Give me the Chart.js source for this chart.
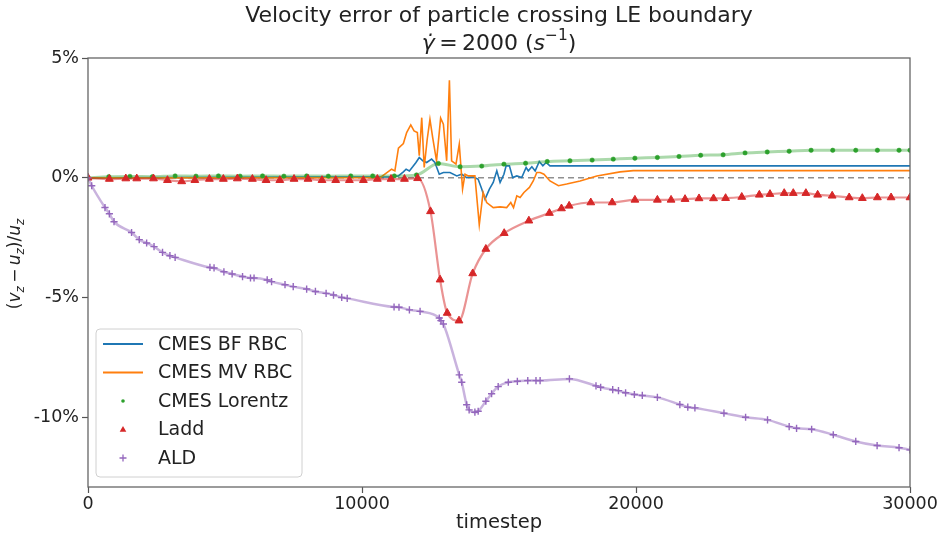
<!DOCTYPE html>
<html>
<head>
<meta charset="utf-8">
<script src="https://cdn.jsdelivr.net/npm/chart.js"></script>
<style>
  body { margin: 0; background: #fff; }
  #wrap { width: 952px; height: 540px; }
</style>
</head>
<body>
<div id="wrap"><canvas id="myChart" width="952" height="540"></canvas></div>
<script>
// Axis ticks
var xTicks = [0, 10000, 20000, 30000];
var yTicks = [-10, -5, 0, 5];

// CMES BF RBC
var bfT = [0, 11020, 11330, 11510, 11610, 11730, 11850, 11970, 12090, 12220, 12360, 12540, 12660, 12820, 12970, 13210, 13460, 13640, 13820, 14060, 14240, 14370, 14490, 14650, 14790, 14920, 15040, 15180, 15260, 15380, 15500, 15650, 15830, 15990, 16070, 16200, 16320, 16470, 16600, 16720, 16860, 17230, 30000];
var bfV = [0, 0.04, 0.08, 0.25, 0.36, 0.29, 0.46, 0.64, 0.85, 0.71, 0.64, 0.78, 0.64, 0.15, 0.22, 0.22, 0.08, 0.15, 0.01, 0.04, -0.06, -0.47, -0.89, -0.47, -0.19, 0.29, -0.19, 0.15, 0.5, 0.5, 0.01, 0.08, 0.01, 0.43, 0.29, 0.46, 0.29, 0.68, 0.5, 0.64, 0.5, 0.5, 0.5];

// CMES MV RBC
var mvT = [0, 10660, 11080, 11200, 11330, 11510, 11630, 11780, 11900, 12020, 12090, 12180, 12270, 12380, 12480, 12580, 12720, 12870, 12970, 13090, 13190, 13270, 13430, 13550, 13670, 13760, 13880, 14120, 14280, 14420, 14550, 14790, 15040, 15280, 15430, 15530, 15650, 15770, 15910, 16110, 16250, 16380, 16500, 16640, 16860, 17170, 17470, 17960, 18570, 19420, 19900, 30000];
var mvV = [0, 0.01, 0.36, 0.29, 1.24, 1.43, 1.89, 2.21, 1.96, 1.89, 0.92, 2.51, 0.43, 1.61, 2.44, 1.68, 0.71, 2.49, 2.24, 0.71, 4.07, 0.71, 0.57, 1.4, -0.47, 0.15, 0.08, 0.08, -1.96, -0.61, -1.03, -1.24, -1.21, -1.24, -1.03, -1.24, -0.75, -0.82, -0.61, -0.4, -0.13, 0.22, 0.22, 0.15, -0.13, -0.33, -0.26, -0.13, 0.08, 0.25, 0.3, 0.3];

// CMES Lorentz
var lorT = [0, 760, 1530, 2350, 3180, 3940, 4760, 5550, 6370, 7150, 7980, 8770, 9590, 10390, 11180, 11990, 12790, 13580, 14370, 15180, 15970, 16760, 17590, 18400, 19170, 19960, 20780, 21570, 22360, 23180, 23980, 24790, 25590, 26390, 27180, 28020, 28810, 29600, 30000];
var lorV = [0, 0.05, 0.06, 0.05, 0.08, 0.07, 0.08, 0.07, 0.08, 0.07, 0.08, 0.07, 0.08, 0.08, 0.08, 0.12, 0.6, 0.46, 0.49, 0.57, 0.61, 0.68, 0.71, 0.74, 0.78, 0.82, 0.85, 0.89, 0.94, 0.96, 1.04, 1.08, 1.11, 1.15, 1.15, 1.15, 1.15, 1.15, 1.15];

// Ladd
var laddT = [0, 780, 1380, 1780, 2390, 2900, 3420, 3900, 4430, 4940, 5450, 6000, 6500, 7000, 7520, 8030, 8540, 9040, 9540, 10050, 10560, 11060, 11550, 12030, 12500, 12850, 13110, 13540, 14040, 14520, 15190, 16090, 16840, 17280, 17560, 18350, 19130, 19960, 20780, 21280, 21790, 22300, 22830, 23270, 23860, 24500, 24890, 25410, 25740, 26200, 26630, 27160, 27780, 28260, 28810, 29310, 30000];
var laddV = [0, -0.05, -0.03, -0.03, -0.03, -0.1, -0.15, -0.1, -0.05, -0.05, -0.03, -0.05, -0.1, -0.1, -0.05, -0.05, -0.1, -0.1, -0.1, -0.1, -0.05, -0.05, -0.05, -0.02, -1.4, -4.25, -5.64, -5.96, -3.99, -2.97, -2.31, -1.79, -1.47, -1.28, -1.17, -1.03, -1.03, -0.92, -0.92, -0.92, -0.89, -0.86, -0.86, -0.85, -0.8, -0.71, -0.68, -0.64, -0.64, -0.64, -0.71, -0.75, -0.82, -0.85, -0.82, -0.82, -0.82];

// ALD
var aldT = [0, 135, 620, 780, 950, 1590, 1870, 2140, 2410, 2720, 2990, 3180, 4450, 4600, 4960, 5260, 5640, 5930, 6060, 6540, 6700, 7190, 7490, 7980, 8300, 8690, 8960, 9260, 9460, 11170, 11350, 11730, 12120, 12820, 12880, 12970, 13550, 13640, 13820, 13910, 14120, 14240, 14520, 14730, 14970, 15340, 15670, 16050, 16350, 16500, 17570, 18540, 18710, 19150, 19360, 19620, 19940, 20230, 20780, 21600, 21890, 22150, 23210, 24000, 24800, 25590, 25860, 26410, 27200, 28020, 28800, 29600, 30000];
var aldV = [0, -0.33, -1.24, -1.5, -1.83, -2.28, -2.58, -2.72, -2.87, -3.11, -3.25, -3.32, -3.74, -3.76, -3.92, -4.01, -4.12, -4.18, -4.18, -4.26, -4.33, -4.46, -4.54, -4.64, -4.74, -4.82, -4.89, -4.99, -5.03, -5.39, -5.4, -5.51, -5.57, -5.85, -5.96, -6.1, -8.22, -8.53, -9.47, -9.68, -9.78, -9.74, -9.32, -9.01, -8.71, -8.53, -8.49, -8.46, -8.46, -8.46, -8.39, -8.68, -8.74, -8.84, -8.88, -8.97, -9.04, -9.08, -9.16, -9.46, -9.57, -9.6, -9.82, -9.99, -10.1, -10.38, -10.45, -10.49, -10.72, -11.0, -11.17, -11.26, -11.35];

var FONT = "'DejaVu Sans', sans-serif";

function pts(t, v) {
  return t.map(function(x, i) { return { x: x, y: v[i] }; });
}

function fontFor(style, size) {
  var s = size;
  if (style.indexOf('sub') >= 0 || style.indexOf('sup') >= 0) s = size * 0.7;
  return (style.indexOf('i') === 0 ? 'italic ' : '') + s + 'px ' + FONT;
}

// draws text made of parts: [text, style] with style '', 'i', 'isub', 'sup'
function richText(ctx, parts, x, y, size) {
  var widths = [], total = 0;
  parts.forEach(function(p) {
    ctx.font = fontFor(p[1], size);
    var w = ctx.measureText(p[0]).width;
    widths.push(w);
    total += w;
  });
  var cx = x - total / 2;
  ctx.textAlign = 'left';
  ctx.textBaseline = 'middle';
  parts.forEach(function(p, i) {
    ctx.font = fontFor(p[1], size);
    var dy = 0;
    if (p[1].indexOf('sub') >= 0) dy = size * 0.3;
    if (p[1].indexOf('sup') >= 0) dy = -size * 0.38;
    ctx.fillText(p[0], cx, y + dy);
    cx += widths[i];
  });
}

function drawMarker(ctx, style, x, y, r, color) {
  ctx.save();
  ctx.fillStyle = color;
  ctx.strokeStyle = color;
  ctx.beginPath();
  if (style === 'circle') {
    ctx.arc(x, y, r, 0, Math.PI * 2);
    ctx.fill();
  } else if (style === 'triangle') {
    ctx.moveTo(x, y - r);
    ctx.lineTo(x + r * 0.95, y + r * 0.65);
    ctx.lineTo(x - r * 0.95, y + r * 0.65);
    ctx.closePath();
    ctx.fill();
  } else {
    ctx.lineWidth = 1.3;
    ctx.moveTo(x - r, y); ctx.lineTo(x + r, y);
    ctx.moveTo(x, y - r); ctx.lineTo(x, y + r);
    ctx.stroke();
  }
  ctx.restore();
}

var decor = {
  id: 'decor',
  beforeDatasetsDraw: function(chart) {
    var ctx = chart.ctx, a = chart.chartArea;
    var y0 = chart.scales.y.getPixelForValue(0);
    ctx.save();
    ctx.strokeStyle = '#909090';
    ctx.lineWidth = 1.5;
    ctx.setLineDash([6, 4]);
    ctx.beginPath();
    ctx.moveTo(a.left, y0);
    ctx.lineTo(a.right, y0);
    ctx.stroke();
    ctx.restore();
  },
  afterDraw: function(chart) {
    var ctx = chart.ctx, a = chart.chartArea;
    var mid = (a.left + a.right) / 2;
    ctx.save();
    // frame
    ctx.strokeStyle = '#666';
    ctx.lineWidth = 1.3;
    ctx.strokeRect(a.left, a.top, a.right - a.left, a.bottom - a.top);

    // title
    ctx.fillStyle = '#222';
    ctx.font = '22px ' + FONT;
    ctx.textAlign = 'center';
    ctx.textBaseline = 'middle';
    ctx.fillText('Velocity error of particle crossing LE boundary', mid, 16);
    richText(ctx, [['\u03b3\u0307', 'i'], ['\u2009=\u20092000 (', ''], ['s', 'i'], ['\u22121', 'sup'], [')', '']], mid, 44, 22);

    // y axis title
    ctx.save();
    ctx.translate(16, 264);
    ctx.rotate(-Math.PI / 2);
    richText(ctx, [['(', ''], ['v', 'i'], ['z', 'isub'], ['\u2009\u2212\u2009', ''], ['u', 'i'], ['z', 'isub'], [')/', ''], ['u', 'i'], ['z', 'isub']], 0, 0, 17);
    ctx.restore();

    // legend
    var bx = 96, by = 329, bw = 206, bh = 148;
    ctx.fillStyle = 'rgba(255,255,255,0.85)';
    ctx.strokeStyle = '#d0d0d0';
    ctx.lineWidth = 1;
    ctx.beginPath();
    ctx.roundRect(bx, by, bw, bh, 4);
    ctx.fill();
    ctx.stroke();
    chart.data.datasets.forEach(function(ds, i) {
      var ly = 344 + i * 28.5;
      if (ds.pointRadius === 0) {
        ctx.strokeStyle = ds.borderColor;
        ctx.lineWidth = 1.8;
        ctx.beginPath();
        ctx.moveTo(103, ly);
        ctx.lineTo(143, ly);
        ctx.stroke();
      } else {
        var r = ds.pointStyle === 'circle' ? 1.8 : 3.5;
        drawMarker(ctx, ds.pointStyle, 123, ly, r, ds.pointBackgroundColor);
      }
      ctx.fillStyle = '#222';
      ctx.font = '19px ' + FONT;
      ctx.textAlign = 'left';
      ctx.textBaseline = 'middle';
      ctx.fillText(ds.label, 158, ly + 1);
    });
    ctx.restore();
  }
};

var ctx = document.getElementById('myChart').getContext('2d');
var myChart = new Chart(ctx, {
  type: 'line',
  data: {
    datasets: [{
      label: 'CMES BF RBC',
      data: pts(bfT, bfV),
      borderColor: '#1f77b4',
      borderWidth: 1.6,
      pointRadius: 0,
      order: 5
    }, {
      label: 'CMES MV RBC',
      data: pts(mvT, mvV),
      borderColor: '#ff7f0e',
      borderWidth: 1.6,
      pointRadius: 0,
      order: 4
    }, {
      label: 'CMES Lorentz',
      data: pts(lorT, lorV),
      borderColor: 'rgba(44,160,44,0.4)',
      borderWidth: 3,
      cubicInterpolationMode: 'monotone',
      pointStyle: 'circle',
      pointRadius: 2.2,
      pointBackgroundColor: '#2ca02c',
      pointBorderColor: '#2ca02c',
      pointBorderWidth: 0.5,
      order: 3
    }, {
      label: 'Ladd',
      data: pts(laddT, laddV),
      borderColor: 'rgba(214,39,40,0.5)',
      borderWidth: 2.2,
      cubicInterpolationMode: 'monotone',
      pointStyle: 'triangle',
      pointRadius: 4.5,
      pointBackgroundColor: '#d62728',
      pointBorderColor: '#d62728',
      pointBorderWidth: 1,
      order: 2
    }, {
      label: 'ALD',
      data: pts(aldT, aldV),
      borderColor: 'rgba(148,103,189,0.5)',
      borderWidth: 2.5,
      cubicInterpolationMode: 'monotone',
      pointStyle: 'cross',
      pointRadius: 3.6,
      pointBackgroundColor: '#9467bd',
      pointBorderColor: '#9467bd',
      pointBorderWidth: 1.4,
      order: 1
    }]
  },
  options: {
    responsive: false,
    animation: false,
    events: [],
    layout: { padding: { top: 58, right: 42, left: 0, bottom: 0 } },
    plugins: {
      legend: { display: false },
      tooltip: { enabled: false }
    },
    scales: {
      x: {
        type: 'linear',
        min: 0,
        max: 30000,
        afterBuildTicks: function(s) { s.ticks = xTicks.map(function(v) { return { value: v }; }); },
        afterFit: function(s) { s.height = 53; },
        border: { display: false },
        grid: { drawOnChartArea: false, tickLength: 6, tickColor: '#555', tickWidth: 1.2 },
        ticks: {
          color: '#222',
          font: { family: FONT, size: 17.5 },
          maxRotation: 0,
          padding: 1,
          callback: function(v) { return String(v); }
        },
        title: {
          display: true,
          text: 'timestep',
          color: '#222',
          font: { family: FONT, size: 19.5 },
          padding: { top: 0, bottom: 5 }
        }
      },
      y: {
        min: -12.9,
        max: 5,
        afterBuildTicks: function(s) { s.ticks = yTicks.map(function(v) { return { value: v }; }); },
        afterFit: function(s) { s.width = 88; },
        border: { display: false },
        grid: { drawOnChartArea: false, tickLength: 6, tickColor: '#555', tickWidth: 1.2 },
        ticks: {
          color: '#222',
          font: { family: FONT, size: 17.5 },
          padding: 3,
          callback: function(v) { return v + '%'; }
        }
      }
    }
  },
  plugins: [decor]
});
</script>
</body>
</html>
